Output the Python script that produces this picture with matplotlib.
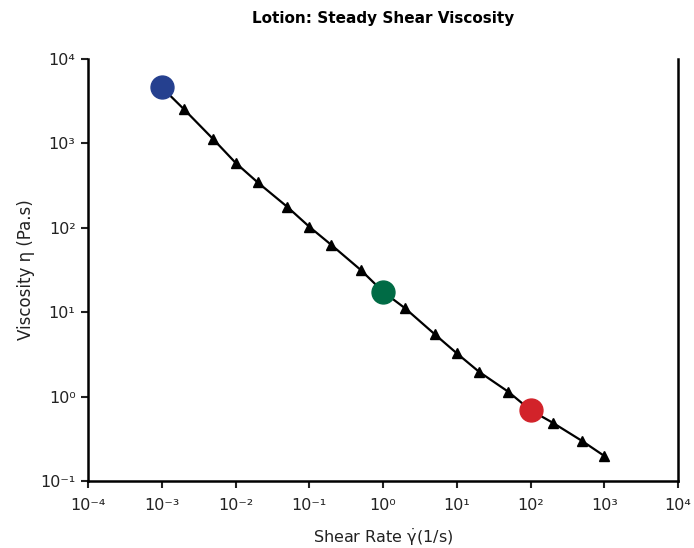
'''Lotion steady shear viscosity flow curve (log-log)'''
import numpy as np
import matplotlib.pyplot as plt
from matplotlib.ticker import FixedLocator, NullLocator, FuncFormatter

plt.rcParams['font.family'] = ['DejaVu Sans']
plt.rcParams['mathtext.fontset'] = 'dejavusans'

# shear rate [1/s] and viscosity [Pa.s]
shear_rate = [1e-3, 2e-3, 5e-3, 0.01, 0.02, 0.05, 0.1, 0.2, 0.5,
              1, 2, 5, 10, 20, 50, 100, 200, 500, 1000]
viscosity = [4620, 2540, 1120, 590, 345, 178, 103, 62.5, 31.6,
             17.5, 11.1, 5.5, 3.26, 1.97, 1.14, 0.69, 0.49, 0.298, 0.198]

# highlighted points
hl_rate = [1e-3, 1, 100]
hl_visc = [4620, 17.5, 0.69]
hl_color = ['#25408f', '#006b45', '#d2232a']

x_decades = list(range(-4, 5))
y_decades = list(range(-1, 5))

SUP = str.maketrans('-0123456789', '⁻⁰¹²³⁴⁵⁶⁷⁸⁹')


def pow10(v, pos):
    return '10' + str(int(round(np.log10(v)))).translate(SUP)


fig = plt.figure(figsize=(6.94, 5.48), dpi=100)
ax = fig.add_axes([0.1268, 0.1223, 0.9770 - 0.1268, 0.8923 - 0.1223])

ax.plot(shear_rate, viscosity, color='black', lw=1.6, marker='^',
        markersize=6.5, zorder=2)
for xr, yv, c in zip(hl_rate, hl_visc, hl_color):
    ax.plot(xr, yv, 'o', color=c, markersize=16.5, zorder=3)

ax.set_xscale('log')
ax.set_yscale('log')
ax.set_xlim(1e-4, 1e4)
ax.set_ylim(1e-1, 1e4)
ax.xaxis.set_major_locator(FixedLocator([10.0 ** d for d in x_decades]))
ax.yaxis.set_major_locator(FixedLocator([10.0 ** d for d in y_decades]))
ax.xaxis.set_minor_locator(NullLocator())
ax.yaxis.set_minor_locator(NullLocator())
ax.xaxis.set_major_formatter(FuncFormatter(pow10))
ax.yaxis.set_major_formatter(FuncFormatter(pow10))

ax.spines['top'].set_visible(False)
for s in ['left', 'bottom', 'right']:
    ax.spines[s].set_linewidth(1.8)
ax.tick_params(direction='out', length=5, width=1.5, labelsize=11.5,
               colors='#222222', pad=4)
ax.tick_params(axis='x', pad=7)

ax.set_xlabel(r'Shear Rate $\dot{\mathrm{\gamma}}$(1/s)', fontsize=11.5,
              color='#222222', labelpad=10)
ax.set_ylabel('Viscosity η (Pa.s)', fontsize=12, color='#222222',
              labelpad=4)
ax.set_title('Lotion: Steady Shear Viscosity', fontsize=11,
             fontweight='bold', pad=26)

fig.savefig('out.png', dpi=100)
